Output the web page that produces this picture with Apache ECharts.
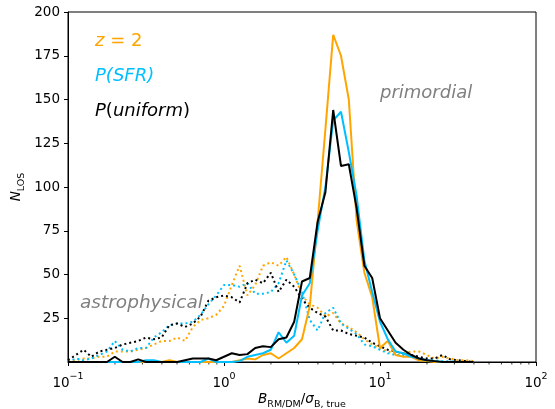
<!DOCTYPE html>
<html>
<head>
<meta charset="utf-8">
<script src="https://cdn.jsdelivr.net/npm/echarts@6/dist/echarts.min.js"></script>
<style>
  html, body { margin: 0; padding: 0; background: #fff; }
  #chart { width: 555px; height: 409px; }
</style>
</head>
<body>
<div id="chart"></div>
<script>
// Log-spaced bin centres of B_RM/DM / sigma_B,true (20 per decade)
const binCenters = [
  0.1, 0.1122, 0.1259, 0.1413, 0.1585, 0.1778, 0.1995, 0.2239, 0.2512, 0.2818,
  0.3162, 0.3548, 0.3981, 0.4467, 0.5012, 0.5623, 0.6310, 0.7079, 0.7943, 0.8913,
  1.0, 1.122, 1.259, 1.413, 1.585, 1.778, 1.995, 2.239, 2.512, 2.818,
  3.162, 3.548, 3.981, 4.467, 5.012, 5.623, 6.310, 7.079, 7.943, 8.913,
  10.0, 11.22, 12.59, 14.13, 15.85, 17.78, 19.95, 22.39, 25.12, 28.18,
  31.62, 35.48, 39.81
];

// Primordial fields (solid lines): counts of lines of sight per bin
const primordialZ2 = [
  0, 0, 0, 0, 0, 0, 0, 0, 0, 0,
  0, 0, 0, 1, 0, 0, 0, 0, 0, 0,
  0, 0, 1, 2, 1.5, 4, 5, 2, 5, 8,
  13, 32, 80, 133, 187, 175, 150, 81, 51, 37,
  8, 12, 4, 3, 3, 1, 0.5, 0, 0, 0,
  0, 0, 0
];
const primordialSFR = [
  0, 0, 0, 0, 0, 0, 0, 0, 0, 0,
  1, 1, 0, 0, 0, 0, 0, 0, 2, 0,
  0, 0, 0.5, 3, 4, 5, 7, 17, 11, 15,
  38, 45, 75, 100, 138, 143, 120, 95, 58, 40,
  23, 13, 6, 5, 3, 2, 1, 0.5, 0, 0,
  0, 0, 0
];
const primordialUniform = [
  0, 0, 0, 0, 0, 0, 3, 0, 0, 1.5,
  0, 0, 0, 0, 0, 1, 2, 2, 2, 1,
  3, 5, 4, 4.5, 8, 9, 8.5, 13, 14, 23,
  46, 48, 80, 97, 144, 112, 113, 88, 55, 48,
  25, 18, 11, 7, 4, 2, 1, 0.5, 0, 0,
  0, 0, 0
];

// Astrophysical fields (dotted lines)
const astroZ2 = [
  0, 1, 2, 2, 3, 3, 6, 6, 6, 7,
  8, 10, 12, 12, 14, 12, 20, 24, 25, 27,
  32, 44, 55, 38, 44, 55, 57, 55, 60, 50,
  38, 33, 31, 26, 28, 22, 20, 17, 13, 10,
  8, 6, 5, 5, 6, 6, 4, 2, 3, 2,
  1, 1, 0.5
];
const astroSFR = [
  0, 2, 1, 2, 4, 6, 12, 7, 6, 8,
  8, 14, 17, 21, 22, 22, 23, 27, 33, 38,
  44, 44, 43, 45, 39, 39, 40, 45, 58, 50,
  40, 24, 18, 28, 31, 22, 19, 16, 10, 9,
  7, 5, 4, 4, 4, 2, 1, 1, 0.5, 0.5,
  0, 0, 0
];
const astroUniform = [
  1, 4, 7, 3, 6, 7, 8, 10, 11, 12,
  14, 13, 14, 21, 22, 20, 22, 26, 35, 37,
  38, 37, 34, 45, 47, 45, 51, 40, 47, 43,
  36, 31, 28, 26, 18, 18, 16, 15, 14, 11,
  9, 7, 6, 5, 4, 3, 2, 2, 4, 1.5,
  1, 0.5, 0
];

// Axis ticks
const yTickValues = [25, 50, 75, 100, 125, 150, 175, 200];
const xMajorTicks = [0.1, 1, 10, 100];
const xMinorTicks = [
  0.2, 0.3, 0.4, 0.5, 0.6, 0.7, 0.8, 0.9,
  2, 3, 4, 5, 6, 7, 8, 9,
  20, 30, 40, 50, 60, 70, 80, 90
];
const xExponents = { '0.1': '\u22121', '1': '0', '10': '1', '100': '2' };

const ORANGE = '#FFA500';
const BLUE = '#00BFFF';
const BLACK = '#000000';
const GREY = '#808080';
const FONT = 'DejaVu Sans';

function pairs(ys) {
  return binCenters.map((x, i) => [x, ys[i]]);
}

function solid(name, ys, color) {
  return {
    name, type: 'line', data: pairs(ys), showSymbol: false, symbol: 'none',
    lineStyle: { color, width: 2 }, z: 3, silent: true
  };
}
function dotted(name, ys, color) {
  return {
    name, type: 'line', data: pairs(ys), showSymbol: false, symbol: 'none',
    lineStyle: { color, width: 2, type: [2, 3], cap: 'butt' }, z: 2, silent: true
  };
}

const chart = echarts.init(document.getElementById('chart'), null, { renderer: 'canvas' });

chart.setOption({
  animation: false,
  backgroundColor: '#fff',
  grid: {
    left: 68, right: 19, top: 12, bottom: 47,
    containLabel: false, outerBoundsMode: 'none',
    show: true, borderColor: '#000', borderWidth: 1, backgroundColor: 'transparent'
  },
  xAxis: {
    type: 'log', logBase: 10, min: 0.1, max: 100,
    splitLine: { show: false },
    axisLine: { lineStyle: { color: '#000', width: 1 } },
    axisTick: { inside: false, length: 4, lineStyle: { color: '#000', width: 1 }, customValues: xMajorTicks },
    axisLabel: {
      customValues: xMajorTicks,
      margin: 10,
      formatter: v => '{b|10}{s|' + xExponents[String(v)] + '}',
      rich: {
        b: { fontFamily: FONT, fontSize: 13.5, color: '#000', lineHeight: 18, verticalAlign: 'bottom' },
        s: { fontFamily: FONT, fontSize: 9.5, color: '#000', lineHeight: 18, verticalAlign: 'top' }
      }
    },
    name: '{i|B}{sub|RM/DM}{r|/}{i|\u03c3}{sub|B, true}',
    nameLocation: 'middle',
    nameGap: 30,
    nameMoveOverlap: false,
    nameTextStyle: {
      rich: {
        i: { fontFamily: FONT, fontSize: 13.5, fontStyle: 'italic', color: '#000', lineHeight: 18, verticalAlign: 'top' },
        r: { fontFamily: FONT, fontSize: 13.5, color: '#000', lineHeight: 18, verticalAlign: 'top' },
        sub: { fontFamily: FONT, fontSize: 9.5, color: '#000', lineHeight: 18, verticalAlign: 'bottom' }
      }
    }
  },
  yAxis: {
    type: 'value', min: 0, max: 200, interval: 25,
    splitLine: { show: false },
    axisLine: { lineStyle: { color: '#000', width: 1 } },
    axisTick: { inside: false, length: 4, lineStyle: { color: '#000', width: 1 }, customValues: yTickValues },
    axisLabel: {
      customValues: yTickValues,
      margin: 8,
      fontFamily: FONT, fontSize: 13.5, color: '#000'
    },
    name: '{i|N}{sub|LOS}',
    nameLocation: 'middle',
    nameGap: 41,
    nameMoveOverlap: false,
    nameRotate: 90,
    nameTextStyle: {
      rich: {
        i: { fontFamily: FONT, fontSize: 13.5, fontStyle: 'italic', color: '#000', lineHeight: 18, verticalAlign: 'top' },
        sub: { fontFamily: FONT, fontSize: 9.5, color: '#000', lineHeight: 18, verticalAlign: 'bottom' }
      }
    }
  },
  series: [
    solid('z = 2 primordial', primordialZ2, ORANGE),
    dotted('z = 2 astrophysical', astroZ2, ORANGE),
    solid('P(SFR) primordial', primordialSFR, BLUE),
    dotted('P(SFR) astrophysical', astroSFR, BLUE),
    solid('P(uniform) primordial', primordialUniform, BLACK),
    dotted('P(uniform) astrophysical', astroUniform, BLACK),
    {
      // minor ticks of the logarithmic x axis (2..9 x 10^k)
      name: 'minor ticks', type: 'custom', clip: false, silent: true,
      data: xMinorTicks.map(v => [v, 0]),
      renderItem: (params, api) => {
        const p = api.coord([api.value(0), 0]);
        return {
          type: 'line',
          shape: { x1: p[0], y1: p[1] + 0.5, x2: p[0], y2: p[1] + 2.5 },
          style: { stroke: '#000', lineWidth: 0.8 }
        };
      }
    }
  ],
  graphic: [
    {
      type: 'text', left: 95, top: 32,
      style: {
        text: '{i|z}{r| = 2}',
        rich: {
          i: { fontFamily: FONT, fontSize: 18, fontStyle: 'italic', fill: ORANGE },
          r: { fontFamily: FONT, fontSize: 18, fill: ORANGE }
        }
      }
    },
    {
      type: 'text', left: 95, top: 67,
      style: { text: 'P(SFR)', fontFamily: FONT, fontSize: 18, fontStyle: 'italic', fill: BLUE }
    },
    {
      type: 'text', left: 95, top: 102,
      style: {
        text: '{i|P}{r|(}{i|uniform}{r|)}',
        rich: {
          i: { fontFamily: FONT, fontSize: 18, fontStyle: 'italic', fill: BLACK },
          r: { fontFamily: FONT, fontSize: 18, fill: BLACK }
        }
      }
    },
    {
      type: 'text', left: 380, top: 84,
      style: { text: 'primordial', fontFamily: FONT, fontSize: 18, fontStyle: 'italic', fill: GREY }
    },
    {
      type: 'text', left: 80, top: 294,
      style: { text: 'astrophysical', fontFamily: FONT, fontSize: 18.5, fontStyle: 'italic', fill: GREY }
    }
  ]
});
</script>
</body>
</html>
